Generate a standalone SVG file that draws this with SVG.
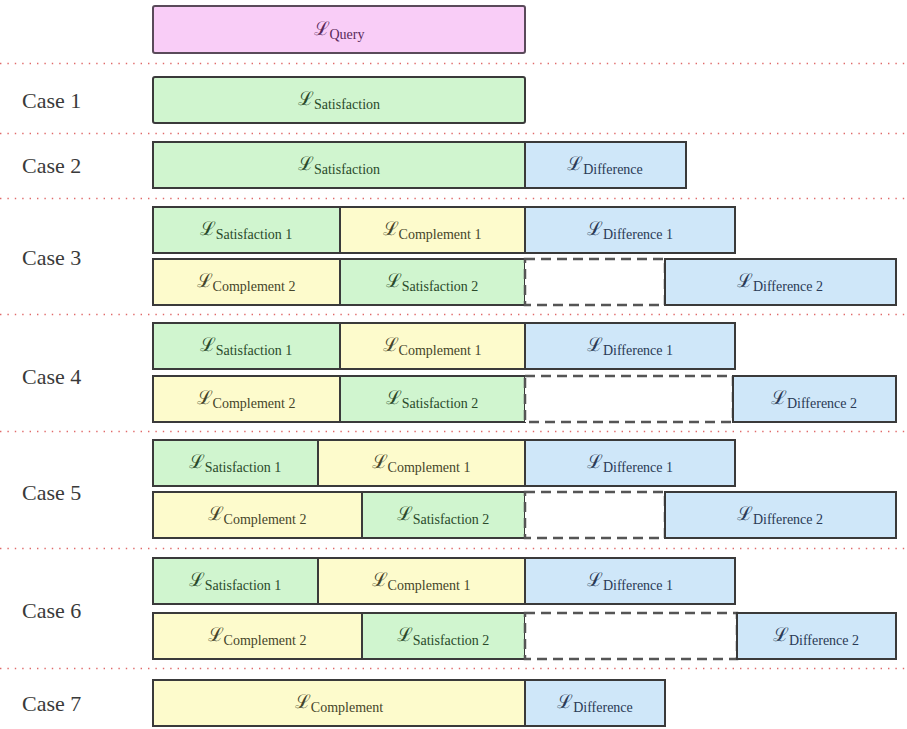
<svg xmlns="http://www.w3.org/2000/svg" width="907" height="729" viewBox="0 0 907 729" font-family="'Liberation Serif', 'DejaVu Serif', serif">
<style>
.b{stroke:#3a3a3a;stroke-width:2}
.q{fill:#f9cdf7;stroke:#5a4a5a;stroke-width:2}
.g{fill:#d0f5cf}
.y{fill:#fdfbcc}
.u{fill:#cfe7f9}
.d{fill:#fff;stroke:#555;stroke-width:2.5;stroke-dasharray:10,6}
.sep{stroke:#e06a6a;stroke-width:1.6;stroke-dasharray:1.4,6}
.t{font-family:'Liberation Serif','DejaVu Serif',serif;font-size:19px;text-anchor:middle}
.s{font-size:14px}
.tg{fill:#2a4a2a}.ty{fill:#45452a}.tu{fill:#2a3a55}.tq{fill:#5a2a5a}
.c{font-family:'Liberation Serif','DejaVu Serif',serif;font-size:22px;fill:#3a3a3a}
</style>
<g id="separators">
<line class="sep" x1="0" y1="63.5" x2="907" y2="63.5"/>
<line class="sep" x1="0" y1="133.5" x2="907" y2="133.5"/>
<line class="sep" x1="0" y1="198.5" x2="907" y2="198.5"/>
<line class="sep" x1="0" y1="314.5" x2="907" y2="314.5"/>
<line class="sep" x1="0" y1="431.5" x2="907" y2="431.5"/>
<line class="sep" x1="0" y1="548.5" x2="907" y2="548.5"/>
<line class="sep" x1="0" y1="668.5" x2="907" y2="668.5"/>
</g>
<g id="labels">
<text class="c" x="22" y="108">Case 1</text>
<text class="c" x="22" y="173">Case 2</text>
<text class="c" x="22" y="265">Case 3</text>
<text class="c" x="22" y="384">Case 4</text>
<text class="c" x="22" y="500">Case 5</text>
<text class="c" x="22" y="618">Case 6</text>
<text class="c" x="22" y="711">Case 7</text>
</g>
<g id="query"><rect class="q" x="153" y="6" width="372" height="47" rx="2"/><text class="t tq" x="339" y="35">ℒ<tspan class="s" dy="4">Query</tspan></text></g>

<g id="c1-sat"><rect class="b g" x="153" y="77" width="372" height="46" rx="2"/><text class="t tg" x="339" y="105">ℒ<tspan class="s" dy="4">Satisfaction</tspan></text></g>

<g id="c2-sat"><rect class="b g" x="153" y="142" width="372" height="46"/><text class="t tg" x="339" y="170">ℒ<tspan class="s" dy="4">Satisfaction</tspan></text></g>
<g id="c2-diff"><rect class="b u" x="525" y="142" width="161" height="46"/><text class="t tu" x="605" y="170">ℒ<tspan class="s" dy="4">Difference</tspan></text></g>

<g id="c3-sat1"><rect class="b g" x="153" y="207" width="187" height="46"/><text class="t tg" x="246" y="235">ℒ<tspan class="s" dy="4">Satisfaction 1</tspan></text></g>
<g id="c3-comp1"><rect class="b y" x="340" y="207" width="185" height="46"/><text class="t ty" x="432" y="235">ℒ<tspan class="s" dy="4">Complement 1</tspan></text></g>
<g id="c3-diff1"><rect class="b u" x="525" y="207" width="210" height="46"/><text class="t tu" x="630" y="235">ℒ<tspan class="s" dy="4">Difference 1</tspan></text></g>
<g id="c3-comp2"><rect class="b y" x="153" y="259" width="187" height="46"/><text class="t ty" x="246" y="287">ℒ<tspan class="s" dy="4">Complement 2</tspan></text></g>
<g id="c3-sat2"><rect class="b g" x="340" y="259" width="185" height="46"/><text class="t tg" x="432" y="287">ℒ<tspan class="s" dy="4">Satisfaction 2</tspan></text></g>
<g id="c3-gap"><rect class="d" x="525" y="259" width="140" height="46"/></g>
<g id="c3-diff2"><rect class="b u" x="665" y="259" width="231" height="46"/><text class="t tu" x="780" y="287">ℒ<tspan class="s" dy="4">Difference 2</tspan></text></g>

<g id="c4-sat1"><rect class="b g" x="153" y="323" width="187" height="46"/><text class="t tg" x="246" y="351">ℒ<tspan class="s" dy="4">Satisfaction 1</tspan></text></g>
<g id="c4-comp1"><rect class="b y" x="340" y="323" width="185" height="46"/><text class="t ty" x="432" y="351">ℒ<tspan class="s" dy="4">Complement 1</tspan></text></g>
<g id="c4-diff1"><rect class="b u" x="525" y="323" width="210" height="46"/><text class="t tu" x="630" y="351">ℒ<tspan class="s" dy="4">Difference 1</tspan></text></g>
<g id="c4-comp2"><rect class="b y" x="153" y="376" width="187" height="46"/><text class="t ty" x="246" y="404">ℒ<tspan class="s" dy="4">Complement 2</tspan></text></g>
<g id="c4-sat2"><rect class="b g" x="340" y="376" width="185" height="46"/><text class="t tg" x="432" y="404">ℒ<tspan class="s" dy="4">Satisfaction 2</tspan></text></g>
<g id="c4-gap"><rect class="d" x="525" y="376" width="208" height="46"/></g>
<g id="c4-diff2"><rect class="b u" x="733" y="376" width="163" height="46"/><text class="t tu" x="814" y="404">ℒ<tspan class="s" dy="4">Difference 2</tspan></text></g>

<g id="c5-sat1"><rect class="b g" x="153" y="440" width="165" height="46"/><text class="t tg" x="235" y="468">ℒ<tspan class="s" dy="4">Satisfaction 1</tspan></text></g>
<g id="c5-comp1"><rect class="b y" x="318" y="440" width="207" height="46"/><text class="t ty" x="421" y="468">ℒ<tspan class="s" dy="4">Complement 1</tspan></text></g>
<g id="c5-diff1"><rect class="b u" x="525" y="440" width="210" height="46"/><text class="t tu" x="630" y="468">ℒ<tspan class="s" dy="4">Difference 1</tspan></text></g>
<g id="c5-comp2"><rect class="b y" x="153" y="492" width="209" height="46"/><text class="t ty" x="257" y="520">ℒ<tspan class="s" dy="4">Complement 2</tspan></text></g>
<g id="c5-sat2"><rect class="b g" x="362" y="492" width="163" height="46"/><text class="t tg" x="443" y="520">ℒ<tspan class="s" dy="4">Satisfaction 2</tspan></text></g>
<g id="c5-gap"><rect class="d" x="525" y="492" width="140" height="46"/></g>
<g id="c5-diff2"><rect class="b u" x="665" y="492" width="231" height="46"/><text class="t tu" x="780" y="520">ℒ<tspan class="s" dy="4">Difference 2</tspan></text></g>

<g id="c6-sat1"><rect class="b g" x="153" y="558" width="165" height="46"/><text class="t tg" x="235" y="586">ℒ<tspan class="s" dy="4">Satisfaction 1</tspan></text></g>
<g id="c6-comp1"><rect class="b y" x="318" y="558" width="207" height="46"/><text class="t ty" x="421" y="586">ℒ<tspan class="s" dy="4">Complement 1</tspan></text></g>
<g id="c6-diff1"><rect class="b u" x="525" y="558" width="210" height="46"/><text class="t tu" x="630" y="586">ℒ<tspan class="s" dy="4">Difference 1</tspan></text></g>
<g id="c6-comp2"><rect class="b y" x="153" y="613" width="209" height="46"/><text class="t ty" x="257" y="641">ℒ<tspan class="s" dy="4">Complement 2</tspan></text></g>
<g id="c6-sat2"><rect class="b g" x="362" y="613" width="163" height="46"/><text class="t tg" x="443" y="641">ℒ<tspan class="s" dy="4">Satisfaction 2</tspan></text></g>
<g id="c6-gap"><rect class="d" x="525" y="613" width="212" height="46"/></g>
<g id="c6-diff2"><rect class="b u" x="737" y="613" width="159" height="46"/><text class="t tu" x="816" y="641">ℒ<tspan class="s" dy="4">Difference 2</tspan></text></g>

<g id="c7-comp"><rect class="b y" x="153" y="680" width="372" height="46"/><text class="t ty" x="339" y="708">ℒ<tspan class="s" dy="4">Complement</tspan></text></g>
<g id="c7-diff"><rect class="b u" x="525" y="680" width="140" height="46"/><text class="t tu" x="595" y="708">ℒ<tspan class="s" dy="4">Difference</tspan></text></g>
</svg>
